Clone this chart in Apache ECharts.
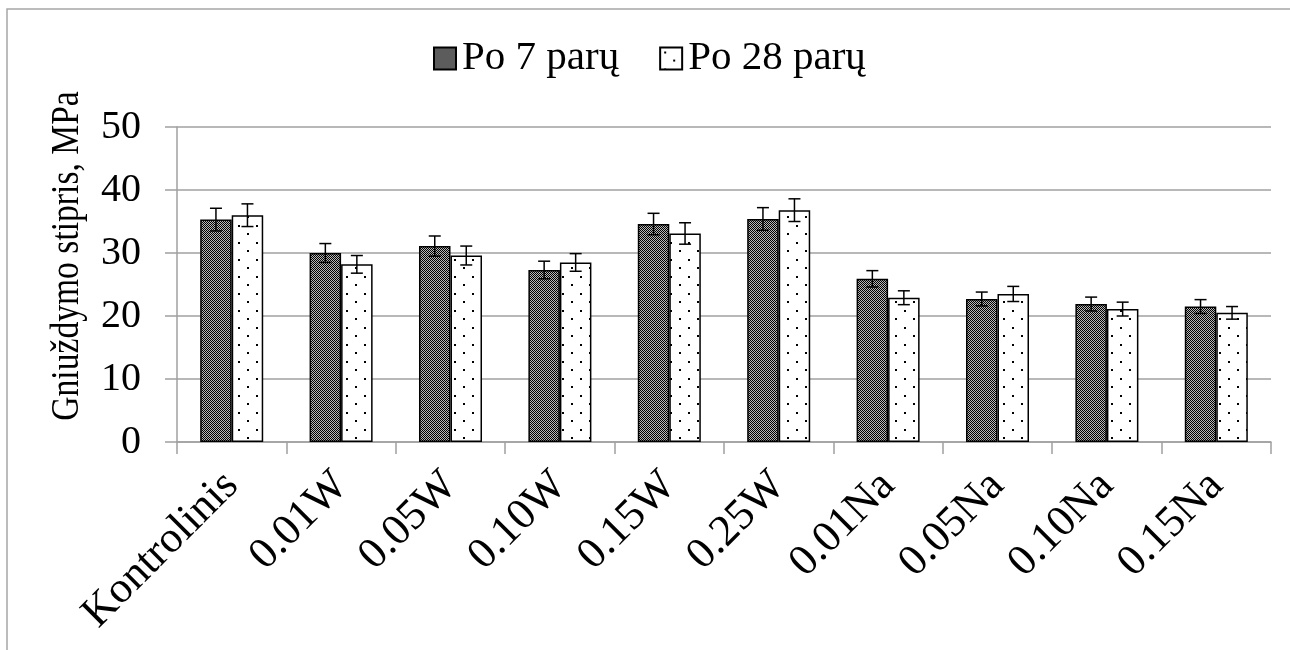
<!DOCTYPE html>
<html>
<head>
<meta charset="utf-8">
<script src="https://cdn.jsdelivr.net/npm/echarts@6/dist/echarts.min.js"></script>
<style>
  html, body { margin: 0; padding: 0; background: #fff; }
  #chart { width: 1290px; height: 650px; }
</style>
</head>
<body>
<div id="chart"></div>
<script>
// Compressive strength after 7 and 28 days, MPa
const categories = ['Kontrolinis', '0.01W', '0.05W', '0.10W', '0.15W', '0.25W', '0.01Na', '0.05Na', '0.10Na', '0.15Na'];
const after7 = [35.3, 30.0, 31.1, 27.3, 34.6, 35.4, 25.9, 22.7, 21.9, 21.5];
const after28 = [36.0, 28.2, 29.6, 28.5, 33.1, 36.8, 22.9, 23.5, 21.1, 20.5];
const err7 = [1.8, 1.5, 1.6, 1.4, 1.7, 1.8, 1.3, 1.1, 1.1, 1.1];
const err28 = [1.8, 1.4, 1.5, 1.4, 1.7, 1.8, 1.1, 1.2, 1.1, 1.0];
const seriesNames = ['Po 7 parų', 'Po 28 parų'];
const yTicks = [0, 10, 20, 30, 40, 50];
const yTitle = 'Gniuždymo stipris, MPa';

const FONT = '"Liberation Serif", "Times New Roman", serif';
const CATEGORY_GAP = 0.424;

// fine checkerboard fill
function checkerPattern() {
  const c = document.createElement('canvas');
  c.width = 2; c.height = 2;
  const g = c.getContext('2d');
  g.fillStyle = '#b8b8b8';
  g.fillRect(0, 0, 2, 2);
  g.fillStyle = '#000';
  g.fillRect(0, 0, 1, 1);
  g.fillRect(1, 1, 1, 1);
  return c;
}
// sparse staggered dots on white
function dotPattern() {
  const c = document.createElement('canvas');
  c.width = 18; c.height = 17;
  const g = c.getContext('2d');
  g.fillStyle = '#fff';
  g.fillRect(0, 0, 18, 17);
  g.fillStyle = '#000';
  g.fillRect(4, 4, 2, 2);
  g.fillRect(13, 12, 2, 2);
  return c;
}

const chart = echarts.init(document.getElementById('chart'), null, { renderer: 'canvas' });

function errorSeries(values, errs, side) {
  return {
    type: 'custom',
    silent: true,
    z: 5,
    data: values.map((v, i) => [i, v, errs[i]]),
    encode: { x: 0, y: 1 },
    renderItem: function (params, api) {
      const idx = api.value(0);
      const v = api.value(1);
      const e = api.value(2);
      const band = api.size([1, 0])[0];
      const barW = band * (1 - CATEGORY_GAP) / 2;
      const top = api.coord([idx, v + e]);
      const bot = api.coord([idx, v - e]);
      const x = top[0] + side * barW / 2;
      const cap = 6;
      const style = { stroke: '#000', lineWidth: 1.5, fill: null };
      return {
        type: 'group',
        children: [
          { type: 'line', shape: { x1: x, y1: top[1], x2: x, y2: bot[1] }, style },
          { type: 'line', shape: { x1: x - cap, y1: top[1], x2: x + cap, y2: top[1] }, style },
          { type: 'line', shape: { x1: x - cap, y1: bot[1], x2: x + cap, y2: bot[1] }, style }
        ]
      };
    }
  };
}

const option = {
  backgroundColor: '#fff',
  animation: false,
  textStyle: { fontFamily: FONT },
  graphic: [
    {
      type: 'rect',
      shape: { x: 7, y: 9, width: 1400, height: 800 },
      style: { fill: null, stroke: '#a6a6a6', lineWidth: 1.5 },
      silent: true
    },
    {
      // vertical axis title, set slightly condensed along its length
      type: 'text',
      x: 67,
      y: 256,
      rotation: Math.PI / 2,
      scaleX: 0.84,
      scaleY: 1,
      style: {
        text: yTitle,
        font: '40px ' + FONT,
        fill: '#000',
        align: 'center',
        verticalAlign: 'middle'
      },
      silent: true
    }
  ],
  legend: {
    data: seriesNames,
    top: 38,
    left: 433,
    padding: 0,
    icon: 'rect',
    itemWidth: 22,
    itemHeight: 22,
    itemGap: 40,
    textStyle: { fontFamily: FONT, fontSize: 41, color: '#000', padding: [0, 0, 0, 1] }
  },
  grid: { left: 177, right: 19, top: 127, bottom: 208, containLabel: false },
  xAxis: {
    type: 'category',
    data: categories,
    axisLine: { lineStyle: { color: '#a0a0a0', width: 1.5 } },
    axisTick: { show: true, length: 12, lineStyle: { color: '#a0a0a0', width: 1.5 } },
    axisLabel: {
      rotate: 45,
      interval: 0,
      margin: 37,
      fontFamily: FONT,
      fontSize: 44,
      color: '#000'
    },
    splitLine: { show: false }
  },
  yAxis: {
    type: 'value',
    min: yTicks[0],
    max: yTicks[yTicks.length - 1],
    interval: 10,
    axisLine: { show: true, lineStyle: { color: '#a0a0a0', width: 1.5 } },
    axisTick: { show: true, length: 12, lineStyle: { color: '#a0a0a0', width: 1.5 } },
    axisLabel: { margin: 36, fontFamily: FONT, fontSize: 40, color: '#000' },
    splitLine: { lineStyle: { color: '#a0a0a0', width: 1.5 } }
  },
  series: [
    {
      name: seriesNames[0],
      type: 'bar',
      data: after7,
      barGap: '0%',
      barCategoryGap: (CATEGORY_GAP * 100) + '%',
      itemStyle: {
        color: { image: checkerPattern(), repeat: 'repeat' },
        borderColor: '#000',
        borderWidth: 1.5
      }
    },
    {
      name: seriesNames[1],
      type: 'bar',
      data: after28,
      barGap: '0%',
      barCategoryGap: (CATEGORY_GAP * 100) + '%',
      itemStyle: {
        color: { image: dotPattern(), repeat: 'repeat' },
        borderColor: '#000',
        borderWidth: 1.5
      }
    },
    errorSeries(after7, err7, -1),
    errorSeries(after28, err28, 1)
  ]
};

chart.setOption(option);
</script>
</body>
</html>
